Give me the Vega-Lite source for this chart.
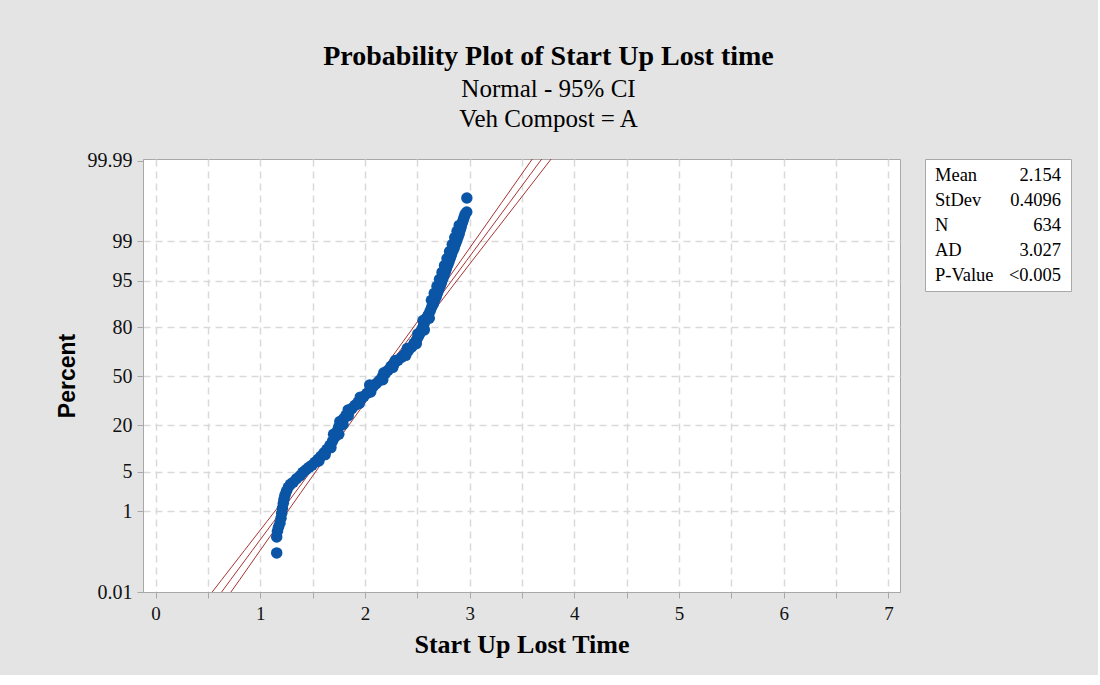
{
  "$schema": "https://vega.github.io/schema/vega-lite/v6.json",
  "background": "#e4e4e4",
  "padding": {"left": 55, "top": 43, "right": 26, "bottom": 17},
  "title": {
    "text": "Probability Plot of Start Up Lost time",
    "subtitle": ["Normal - 95% CI", "Veh Compost = A"],
    "anchor": "middle",
    "font": "Liberation Serif",
    "fontSize": 28,
    "fontWeight": "bold",
    "color": "#000000",
    "subtitleFont": "Liberation Serif",
    "subtitleFontSize": 25,
    "subtitleColor": "#000000",
    "subtitleLineHeight": 30,
    "subtitlePadding": 6,
    "offset": 18,
    "dx": -15
  },
  "datasets": {
    "pts": [
      {"x": 1.157, "z": -3.045}, {"x": 1.157, "z": -2.769}, {"x": 1.164, "z": -2.671}, {"x": 1.174, "z": -2.602},
      {"x": 1.188, "z": -2.533}, {"x": 1.198, "z": -2.447}, {"x": 1.205, "z": -2.361}, {"x": 1.212, "z": -2.275},
      {"x": 1.220, "z": -2.189}, {"x": 1.227, "z": -2.120}, {"x": 1.236, "z": -2.051}, {"x": 1.250, "z": -1.982},
      {"x": 1.268, "z": -1.913}, {"x": 1.289, "z": -1.861}, {"x": 1.315, "z": -1.827}, {"x": 1.346, "z": -1.766},
      {"x": 1.380, "z": -1.715}, {"x": 1.408, "z": -1.654}, {"x": 1.437, "z": -1.611}, {"x": 1.466, "z": -1.568},
      {"x": 1.494, "z": -1.534}, {"x": 1.523, "z": -1.482}, {"x": 1.552, "z": -1.430}, {"x": 1.580, "z": -1.379},
      {"x": 1.609, "z": -1.318}, {"x": 1.638, "z": -1.258}, {"x": 1.666, "z": -1.189}, {"x": 1.690, "z": -1.120},
      {"x": 1.714, "z": -1.046}, {"x": 1.731, "z": -0.956}, {"x": 1.748, "z": -0.879}, {"x": 1.772, "z": -0.801},
      {"x": 1.795, "z": -0.732}, {"x": 1.819, "z": -0.672}, {"x": 1.848, "z": -0.612}, {"x": 1.877, "z": -0.551},
      {"x": 1.905, "z": -0.500}, {"x": 1.934, "z": -0.448}, {"x": 1.963, "z": -0.396}, {"x": 1.991, "z": -0.345},
      {"x": 2.020, "z": -0.293}, {"x": 2.049, "z": -0.233}, {"x": 2.077, "z": -0.181}, {"x": 2.106, "z": -0.129},
      {"x": 2.135, "z": -0.078}, {"x": 2.164, "z": -0.017}, {"x": 2.192, "z": 0.043}, {"x": 2.221, "z": 0.103},
      {"x": 2.250, "z": 0.172}, {"x": 2.283, "z": 0.224}, {"x": 2.316, "z": 0.276}, {"x": 2.350, "z": 0.327},
      {"x": 2.383, "z": 0.388}, {"x": 2.417, "z": 0.448}, {"x": 2.447, "z": 0.505}, {"x": 2.469, "z": 0.569},
      {"x": 2.493, "z": 0.629}, {"x": 2.512, "z": 0.689}, {"x": 2.532, "z": 0.758}, {"x": 2.546, "z": 0.819},
      {"x": 2.560, "z": 0.879}, {"x": 2.575, "z": 0.948}, {"x": 2.589, "z": 0.999}, {"x": 2.606, "z": 1.060},
      {"x": 2.622, "z": 1.120}, {"x": 2.637, "z": 1.189}, {"x": 2.654, "z": 1.253}, {"x": 2.665, "z": 1.310},
      {"x": 2.680, "z": 1.370}, {"x": 2.692, "z": 1.430}, {"x": 2.703, "z": 1.491}, {"x": 2.718, "z": 1.551},
      {"x": 2.730, "z": 1.611}, {"x": 2.742, "z": 1.672}, {"x": 2.753, "z": 1.732}, {"x": 2.766, "z": 1.792},
      {"x": 2.777, "z": 1.852}, {"x": 2.790, "z": 1.913}, {"x": 2.802, "z": 1.973}, {"x": 2.814, "z": 2.033},
      {"x": 2.826, "z": 2.094}, {"x": 2.838, "z": 2.154}, {"x": 2.852, "z": 2.214}, {"x": 2.864, "z": 2.275},
      {"x": 2.876, "z": 2.335}, {"x": 2.888, "z": 2.395}, {"x": 2.900, "z": 2.456}, {"x": 2.909, "z": 2.516},
      {"x": 2.919, "z": 2.576}, {"x": 2.928, "z": 2.637}, {"x": 2.938, "z": 2.688}, {"x": 2.947, "z": 2.740},
      {"x": 2.957, "z": 2.792}, {"x": 2.972, "z": 2.831}, {"x": 2.973, "z": 3.073},
      {"x": 2.635, "z": 1.310}, {"x": 2.662, "z": 1.430}, {"x": 2.688, "z": 1.550}, {"x": 2.712, "z": 1.670},
      {"x": 2.736, "z": 1.790}, {"x": 2.760, "z": 1.910}, {"x": 2.784, "z": 2.030}, {"x": 2.808, "z": 2.150},
      {"x": 2.834, "z": 2.270}, {"x": 2.858, "z": 2.390}, {"x": 2.880, "z": 2.500}, {"x": 2.900, "z": 2.600},
      {"x": 1.700, "z": -1.000}, {"x": 1.760, "z": -0.780}, {"x": 1.840, "z": -0.580}, {"x": 1.955, "z": -0.360},
      {"x": 2.045, "z": -0.150}, {"x": 2.180, "z": 0.060}, {"x": 2.290, "z": 0.270}, {"x": 2.405, "z": 0.480},
      {"x": 2.505, "z": 0.730}, {"x": 2.555, "z": 0.960},
      {"x": 1.560, "z": -1.460}, {"x": 1.620, "z": -1.350}, {"x": 1.675, "z": -1.230}, {"x": 1.750, "z": -1.000},
      {"x": 1.790, "z": -0.830}, {"x": 1.840, "z": -0.680}, {"x": 1.945, "z": -0.470}, {"x": 2.055, "z": -0.270},
      {"x": 2.170, "z": -0.060}, {"x": 2.265, "z": 0.150}, {"x": 2.390, "z": 0.360}, {"x": 2.490, "z": 0.560},
      {"x": 2.567, "z": 0.800}, {"x": 2.614, "z": 1.000}
    ],
    "lines": [
      {"band": "lower", "x": 0.541, "z": -3.719}, {"band": "lower", "x": 0.635, "z": -3.5}, {"band": "lower", "x": 0.850, "z": -3.0},
      {"band": "lower", "x": 1.065, "z": -2.5}, {"band": "lower", "x": 1.280, "z": -2.0}, {"band": "lower", "x": 1.493, "z": -1.5},
      {"band": "lower", "x": 1.705, "z": -1.0}, {"band": "lower", "x": 1.915, "z": -0.5}, {"band": "lower", "x": 2.122, "z": 0.0},
      {"band": "lower", "x": 2.325, "z": 0.5}, {"band": "lower", "x": 2.525, "z": 1.0}, {"band": "lower", "x": 2.722, "z": 1.5},
      {"band": "lower", "x": 2.918, "z": 2.0}, {"band": "lower", "x": 3.113, "z": 2.5}, {"band": "lower", "x": 3.308, "z": 3.0},
      {"band": "lower", "x": 3.503, "z": 3.5}, {"band": "lower", "x": 3.598, "z": 3.745},
      {"band": "fit", "x": 0.631, "z": -3.719}, {"band": "fit", "x": 0.720, "z": -3.5}, {"band": "fit", "x": 0.925, "z": -3.0},
      {"band": "fit", "x": 1.130, "z": -2.5}, {"band": "fit", "x": 1.335, "z": -2.0}, {"band": "fit", "x": 1.540, "z": -1.5},
      {"band": "fit", "x": 1.744, "z": -1.0}, {"band": "fit", "x": 1.949, "z": -0.5}, {"band": "fit", "x": 2.154, "z": 0.0},
      {"band": "fit", "x": 2.359, "z": 0.5}, {"band": "fit", "x": 2.564, "z": 1.0}, {"band": "fit", "x": 2.768, "z": 1.5},
      {"band": "fit", "x": 2.973, "z": 2.0}, {"band": "fit", "x": 3.178, "z": 2.5}, {"band": "fit", "x": 3.383, "z": 3.0},
      {"band": "fit", "x": 3.588, "z": 3.5}, {"band": "fit", "x": 3.688, "z": 3.745},
      {"band": "upper", "x": 0.720, "z": -3.719}, {"band": "upper", "x": 0.806, "z": -3.5}, {"band": "upper", "x": 1.000, "z": -3.0},
      {"band": "upper", "x": 1.195, "z": -2.5}, {"band": "upper", "x": 1.390, "z": -2.0}, {"band": "upper", "x": 1.586, "z": -1.5},
      {"band": "upper", "x": 1.783, "z": -1.0}, {"band": "upper", "x": 1.983, "z": -0.5}, {"band": "upper", "x": 2.186, "z": 0.0},
      {"band": "upper", "x": 2.393, "z": 0.5}, {"band": "upper", "x": 2.603, "z": 1.0}, {"band": "upper", "x": 2.815, "z": 1.5},
      {"band": "upper", "x": 3.028, "z": 2.0}, {"band": "upper", "x": 3.243, "z": 2.5}, {"band": "upper", "x": 3.458, "z": 3.0},
      {"band": "upper", "x": 3.673, "z": 3.5}, {"band": "upper", "x": 3.778, "z": 3.745}
    ],
    "stats": [
      {"stat": "Mean", "val": "2.154"},
      {"stat": "StDev", "val": "0.4096"},
      {"stat": "N", "val": "634"},
      {"stat": "AD", "val": "3.027"},
      {"stat": "P-Value", "val": "<0.005"}
    ]
  },
  "hconcat": [
    {
      "width": 757,
      "height": 433,
      "view": {"stroke": "#a8a8a8", "fill": "#ffffff"},
      "layer": [
        {
          "data": {"name": "lines"},
          "mark": {"type": "line", "color": "#a83232", "strokeWidth": 1, "clip": true},
          "encoding": {
            "x": {"field": "x", "type": "quantitative"},
            "y": {"field": "z", "type": "quantitative"},
            "detail": {"field": "band"},
            "order": {"field": "z", "type": "quantitative"}
          }
        },
        {
          "data": {"name": "pts"},
          "mark": {"type": "circle", "color": "#0a55a5", "opacity": 1, "size": 132},
          "encoding": {
            "x": {
              "field": "x", "type": "quantitative",
              "scale": {"domain": [-0.12, 7.11], "nice": false, "zero": false},
              "axis": {
                "title": "Start Up Lost Time",
                "values": [0, 0.5, 1, 1.5, 2, 2.5, 3, 3.5, 4, 4.5, 5, 5.5, 6, 6.5, 7],
                "format": "~g",
                "labelExpr": "datum.value % 1 === 0 ? datum.label : ''",
                "labelFont": "Liberation Serif", "labelFontSize": 19, "labelColor": "#111111",
                "labelPadding": 6,
                "titleFont": "Liberation Serif", "titleFontSize": 26, "titleFontWeight": "bold", "titleColor": "#000000",
                "titlePadding": 8,
                "domainColor": "#a8a8a8", "tickColor": "#a8a8a8", "tickSize": 6,
                "grid": true, "gridColor": "#d9d9d9", "gridDash": [7, 5], "gridWidth": 1.5
              }
            },
            "y": {
              "field": "z", "type": "quantitative",
              "scale": {"domain": [-3.719, 3.745], "nice": false, "zero": false},
              "axis": {
                "title": "Percent",
                "values": [-3.719, -2.326, -1.645, -0.8416, 0, 0.8416, 1.645, 2.326, 3.719],
                "labelExpr": "datum.value > 3.7 ? '99.99' : datum.value > 2.3 ? '99' : datum.value > 1.6 ? '95' : datum.value > 0.8 ? '80' : datum.value > -0.1 ? '50' : datum.value > -0.9 ? '20' : datum.value > -1.7 ? '5' : datum.value > -2.4 ? '1' : '0.01'",
                "labelFont": "Liberation Serif", "labelFontSize": 20, "labelColor": "#111111",
                "labelPadding": 5,
                "titleFont": "Liberation Sans", "titleFontSize": 23, "titleFontWeight": "bold", "titleColor": "#000000",
                "titlePadding": 8,
                "domainColor": "#a8a8a8", "tickColor": "#a8a8a8", "tickSize": 6,
                "grid": true, "gridColor": "#d9d9d9", "gridDash": [7, 5], "gridWidth": 1.5,
                "gridOpacity": {"condition": {"test": "abs(datum.value) > 3.7", "value": 0}, "value": 1}
              }
            }
          }
        }
      ]
    },
    {
      "width": 146,
      "height": 132,
      "view": {"stroke": "#a8a8a8", "fill": "#ffffff"},
      "data": {"name": "stats"},
      "encoding": {
        "y": {"field": "stat", "type": "nominal", "sort": null, "scale": {"type": "point", "padding": 0.65}, "axis": null}
      },
      "layer": [
        {
          "mark": {"type": "text", "align": "left", "baseline": "middle", "dx": 10, "font": "Liberation Serif", "fontSize": 18.5, "color": "#000000"},
          "encoding": {
            "x": {"datum": 0, "type": "quantitative", "scale": {"domain": [0, 1]}, "axis": null},
            "text": {"field": "stat"}
          }
        },
        {
          "mark": {"type": "text", "align": "right", "baseline": "middle", "dx": -10, "font": "Liberation Serif", "fontSize": 18.5, "color": "#000000"},
          "encoding": {
            "x": {"datum": 1, "type": "quantitative"},
            "text": {"field": "val"}
          }
        }
      ]
    }
  ],
  "spacing": 23,
  "config": {"view": {"stroke": "#a8a8a8"}}
}
